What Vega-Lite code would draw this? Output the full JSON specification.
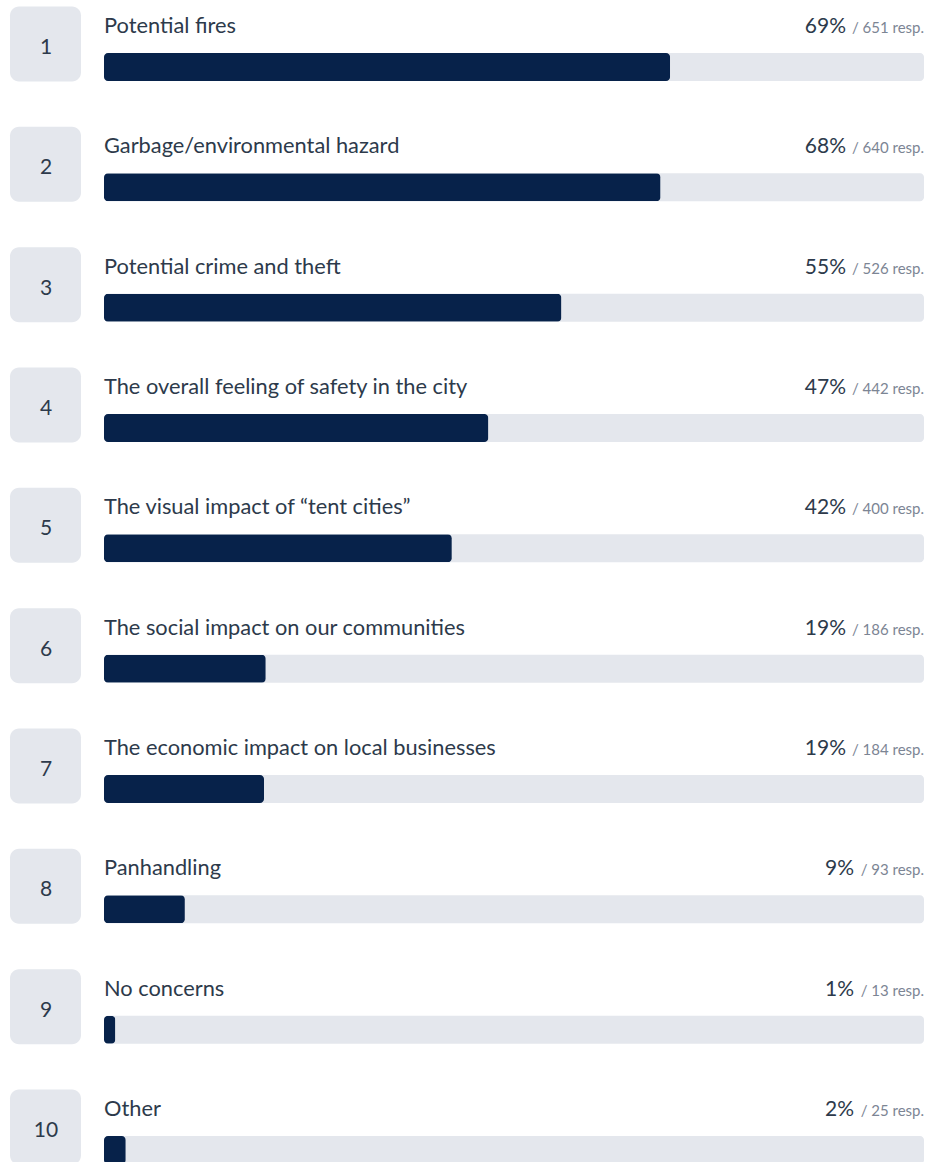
{
  "$schema": "https://vega.github.io/schema/vega-lite/v6.json",
  "width": 925,
  "height": 1162,
  "padding": 0,
  "autosize": "none",
  "background": "white",
  "config": {"view": {"stroke": null}, "font": "Lato"},
  "data": {
    "values": [
      {"rank": 1, "label": "Potential fires", "pct": "69%", "resp": 651, "respText": "/ 651 resp."},
      {"rank": 2, "label": "Garbage/environmental hazard", "pct": "68%", "resp": 640, "respText": "/ 640 resp."},
      {"rank": 3, "label": "Potential crime and theft", "pct": "55%", "resp": 526, "respText": "/ 526 resp."},
      {"rank": 4, "label": "The overall feeling of safety in the city", "pct": "47%", "resp": 442, "respText": "/ 442 resp."},
      {"rank": 5, "label": "The visual impact of “tent cities”", "pct": "42%", "resp": 400, "respText": "/ 400 resp."},
      {"rank": 6, "label": "The social impact on our communities", "pct": "19%", "resp": 186, "respText": "/ 186 resp."},
      {"rank": 7, "label": "The economic impact on local businesses", "pct": "19%", "resp": 184, "respText": "/ 184 resp."},
      {"rank": 8, "label": "Panhandling", "pct": "9%", "resp": 93, "respText": "/ 93 resp."},
      {"rank": 9, "label": "No concerns", "pct": "1%", "resp": 13, "respText": "/ 13 resp."},
      {"rank": 10, "label": "Other", "pct": "2%", "resp": 25, "respText": "/ 25 resp."}
    ]
  },
  "encoding": {
    "y": {"field": "rank", "type": "ordinal", "axis": null,
          "scale": {"type": "point", "range": [44, 1127], "padding": 0}}
  },
  "layer": [
    {
      "mark": {"type": "bar", "color": "#e4e7ed", "height": 28, "cornerRadius": 4, "yOffset": 23},
      "encoding": {"x": {"datum": 943, "type": "quantitative", "scale": {"domain": [0, 943], "range": [104, 924], "nice": false}, "axis": null}}
    },
    {
      "mark": {"type": "bar", "color": "#07224a", "height": 28, "cornerRadius": 4, "yOffset": 23},
      "encoding": {"x": {"field": "resp", "type": "quantitative"}}
    },
    {
      "mark": {"type": "bar", "color": "#e4e7ed", "height": 75, "cornerRadius": 9, "xOffset": -94, "x2Offset": -23},
      "encoding": {"x": {"datum": 0, "type": "quantitative"}, "x2": {"datum": 0}}
    },
    {
      "mark": {"type": "text", "align": "left", "baseline": "alphabetic", "yOffset": -11, "fontSize": 21.8, "color": "#2d3a4b"},
      "encoding": {"x": {"datum": 0, "type": "quantitative"}, "text": {"field": "label"}}
    },
    {
      "mark": {"type": "text", "align": "center", "baseline": "alphabetic", "yOffset": 10, "dx": -58, "fontSize": 21, "color": "#2d3a4b"},
      "encoding": {"x": {"datum": 0, "type": "quantitative"}, "text": {"field": "rank", "type": "nominal"}}
    },
    {
      "mark": {"type": "text", "align": "right", "baseline": "alphabetic", "yOffset": -11, "fontSize": 15, "color": "#7c8594"},
      "encoding": {"x": {"datum": 943, "type": "quantitative"}, "text": {"field": "respText"}}
    },
    {
      "mark": {"type": "text", "align": "right", "baseline": "alphabetic", "yOffset": -11, "fontSize": 21, "color": "#2d3a4b", "dx": {"expr": "length(datum.respText) > 10 ? -78 : -70"}},
      "encoding": {"x": {"datum": 943, "type": "quantitative"}, "text": {"field": "pct"}}
    }
  ]
}
